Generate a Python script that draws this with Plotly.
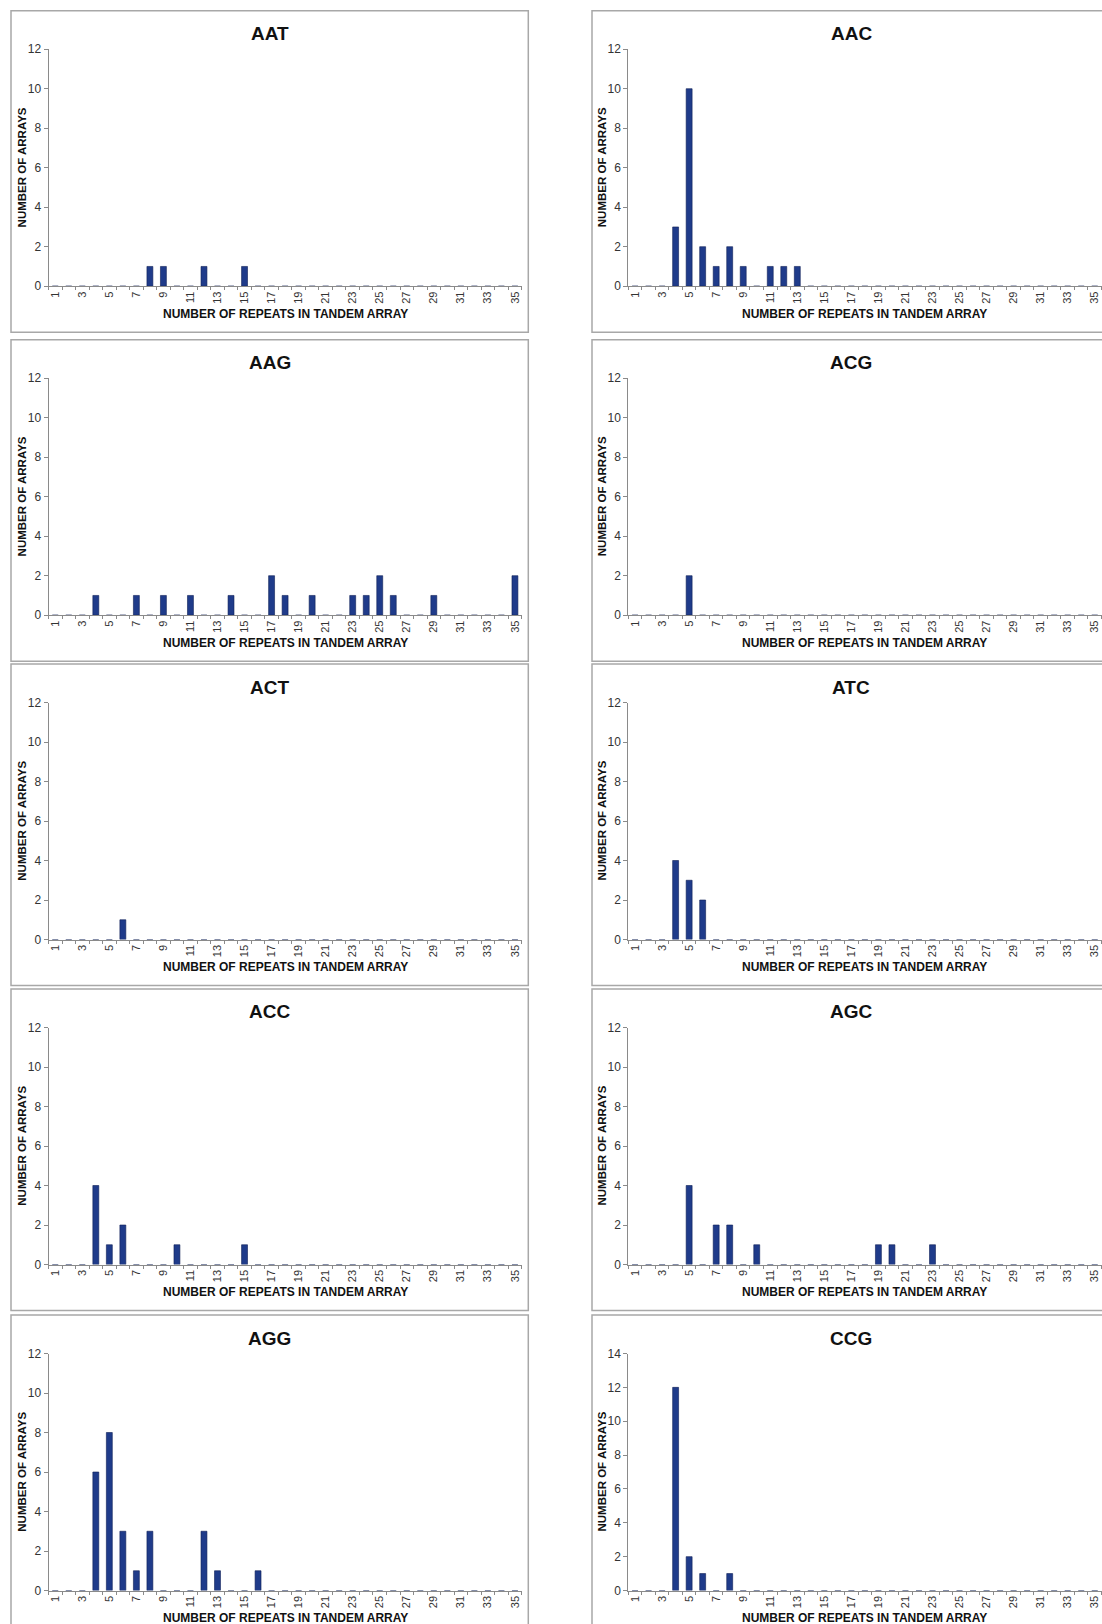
import plotly.graph_objects as go

# ---------------- data ----------------
REPEATS = list(range(1, 36))
X_TICK_LABELS = [str(v) for v in range(1, 36, 2)]

AAT = [0, 0, 0, 0, 0,  0, 0, 1, 1, 0,  0, 1, 0, 0, 1,  0, 0, 0, 0, 0,  0, 0, 0, 0, 0,  0, 0, 0, 0, 0,  0, 0, 0, 0, 0]
AAC = [0, 0, 0, 3, 10, 2, 1, 2, 1, 0,  1, 1, 1, 0, 0,  0, 0, 0, 0, 0,  0, 0, 0, 0, 0,  0, 0, 0, 0, 0,  0, 0, 0, 0, 0]
AAG = [0, 0, 0, 1, 0,  0, 1, 0, 1, 0,  1, 0, 0, 1, 0,  0, 2, 1, 0, 1,  0, 0, 1, 1, 2,  1, 0, 0, 1, 0,  0, 0, 0, 0, 2]
ACG = [0, 0, 0, 0, 2,  0, 0, 0, 0, 0,  0, 0, 0, 0, 0,  0, 0, 0, 0, 0,  0, 0, 0, 0, 0,  0, 0, 0, 0, 0,  0, 0, 0, 0, 0]
ACT = [0, 0, 0, 0, 0,  1, 0, 0, 0, 0,  0, 0, 0, 0, 0,  0, 0, 0, 0, 0,  0, 0, 0, 0, 0,  0, 0, 0, 0, 0,  0, 0, 0, 0, 0]
ATC = [0, 0, 0, 4, 3,  2, 0, 0, 0, 0,  0, 0, 0, 0, 0,  0, 0, 0, 0, 0,  0, 0, 0, 0, 0,  0, 0, 0, 0, 0,  0, 0, 0, 0, 0]
ACC = [0, 0, 0, 4, 1,  2, 0, 0, 0, 1,  0, 0, 0, 0, 1,  0, 0, 0, 0, 0,  0, 0, 0, 0, 0,  0, 0, 0, 0, 0,  0, 0, 0, 0, 0]
AGC = [0, 0, 0, 0, 4,  0, 2, 2, 0, 1,  0, 0, 0, 0, 0,  0, 0, 0, 1, 1,  0, 0, 1, 0, 0,  0, 0, 0, 0, 0,  0, 0, 0, 0, 0]
AGG = [0, 0, 0, 6, 8,  3, 1, 3, 0, 0,  0, 3, 1, 0, 0,  1, 0, 0, 0, 0,  0, 0, 0, 0, 0,  0, 0, 0, 0, 0,  0, 0, 0, 0, 0]
CCG = [0, 0, 0, 12, 2, 1, 0, 1, 0, 0,  0, 0, 0, 0, 0,  0, 0, 0, 0, 0,  0, 0, 0, 0, 0,  0, 0, 0, 0, 0,  0, 0, 0, 0, 0]

PANEL_TITLES = ["AAT", "AAC", "AAG", "ACG", "ACT", "ATC", "ACC", "AGC", "AGG", "CCG"]
PANEL_VALUES = [AAT, AAC, AAG, ACG, ACT, ATC, ACC, AGC, AGG, CCG]
Y_MAX = [12, 12, 12, 12, 12, 12, 12, 12, 12, 14]

X_TITLE = "NUMBER OF REPEATS IN TANDEM ARRAY"
Y_TITLE = "NUMBER OF ARRAYS"

# ---------------- layout geometry (pixels) ----------------
W, H = 1102, 1624
ROW_TOPS = [10.7, 339.7, 664.0, 989.0, 1315.0]
COL_PLOT_X = [(48.5, 521.7), (628.3, 1101.5)]
COL_BOX_X = [(11.0, 528.3), (592.0, 1110.0)]
COL_YTITLE_X = [21.7, 601.5]

FONT = "Arial, 'Liberation Sans', Helvetica, sans-serif"
BAR_COLOR = "#1f3b8a"
AXIS_COLOR = "#8a8a8a"
BOX_COLOR = "#a8a8a8"

def px(x):
    return x / W

def py(y):
    return 1 - y / H

fig = go.Figure()
shapes = []
annotations = []

for i, (title, vals, ymax) in enumerate(zip(PANEL_TITLES, PANEL_VALUES, Y_MAX)):
    row, col = divmod(i, 2)
    top = ROW_TOPS[row]
    plot_top = top + 38.5
    plot_bot = top + 275.5
    x0, x1 = COL_PLOT_X[col]
    n = i + 1
    xa = "x" if n == 1 else f"x{n}"
    ya = "y" if n == 1 else f"y{n}"

    fig.add_trace(go.Bar(
        x=REPEATS, y=vals, xaxis=xa, yaxis=ya, width=0.44,
        marker=dict(color=BAR_COLOR, line=dict(color="#0e1f55", width=0.6)),
        showlegend=False, hoverinfo="x+y",
    ))

    xkey = "xaxis" if n == 1 else f"xaxis{n}"
    ykey = "yaxis" if n == 1 else f"yaxis{n}"
    fig.layout[xkey] = dict(
        domain=[px(x0), px(x1)], anchor=ya, range=[0.5, 35.5],
        tickmode="array", tickvals=list(range(1, 36, 2)), ticktext=X_TICK_LABELS,
        tickangle=-90, ticks="", showgrid=False, zeroline=False,
        showline=True, linecolor=AXIS_COLOR, linewidth=1,
        tickfont=dict(family=FONT, size=11, color="#333333"),
        minor=dict(tickmode="linear", tick0=0.5, dtick=1, ticks="outside",
                   ticklen=3, tickcolor=AXIS_COLOR, tickwidth=1, showgrid=False),
        fixedrange=True, automargin=False,
    )
    fig.layout[ykey] = dict(
        domain=[py(plot_bot), py(plot_top)], anchor=xa, range=[0, ymax],
        tickmode="linear", tick0=0, dtick=2, ticks="outside", ticklen=4,
        tickcolor=AXIS_COLOR, showgrid=False, zeroline=False,
        showline=True, linecolor=AXIS_COLOR, linewidth=1,
        tickfont=dict(family=FONT, size=12, color="#333333"),
        fixedrange=True, automargin=False,
    )

    bx0, bx1 = COL_BOX_X[col]
    shapes.append(dict(type="rect", xref="paper", yref="paper",
                       x0=px(bx0), x1=px(bx1), y0=py(top + 321.5), y1=py(top),
                       line=dict(color=BOX_COLOR, width=1.5), fillcolor="rgba(0,0,0,0)",
                       layer="below"))

    annotations.append(dict(text=f"<b>{title}</b>", xref="paper", yref="paper",
                            x=px((bx0 + bx1) / 2), y=py(top + 23), xanchor="center", yanchor="middle",
                            showarrow=False, font=dict(family=FONT, size=19, color="#111111")))
    annotations.append(dict(text=f"<b>{X_TITLE}</b>", xref="paper", yref="paper",
                            x=px((x0 + x1) / 2), y=py(top + 303), xanchor="center", yanchor="middle",
                            showarrow=False, font=dict(family=FONT, size=12, color="#111111")))
    annotations.append(dict(text=f"<b>{Y_TITLE}</b>", xref="paper", yref="paper",
                            x=px(COL_YTITLE_X[col]), y=py((plot_top + plot_bot) / 2),
                            xanchor="center", yanchor="middle", textangle=-90,
                            showarrow=False, font=dict(family=FONT, size=11.5, color="#111111")))

fig.update_layout(
    width=W, height=H, margin=dict(l=0, r=0, t=0, b=0, pad=0, autoexpand=False),
    paper_bgcolor="white", plot_bgcolor="rgba(0,0,0,0)",
    shapes=shapes, annotations=annotations, bargap=0.56,
    font=dict(family=FONT),
)

POST_JS = (
    "var gd=document.getElementById('{plot_id}');"
    "gd.style.position='fixed';gd.style.top='0px';gd.style.left='0px';"
    "document.documentElement.style.overflow='hidden';"
    "document.body.style.margin='0';document.body.style.padding='0';"
    "document.body.style.overflow='hidden';"
)

fig.write_html("out.html", config={"displayModeBar": False}, post_script=POST_JS)
